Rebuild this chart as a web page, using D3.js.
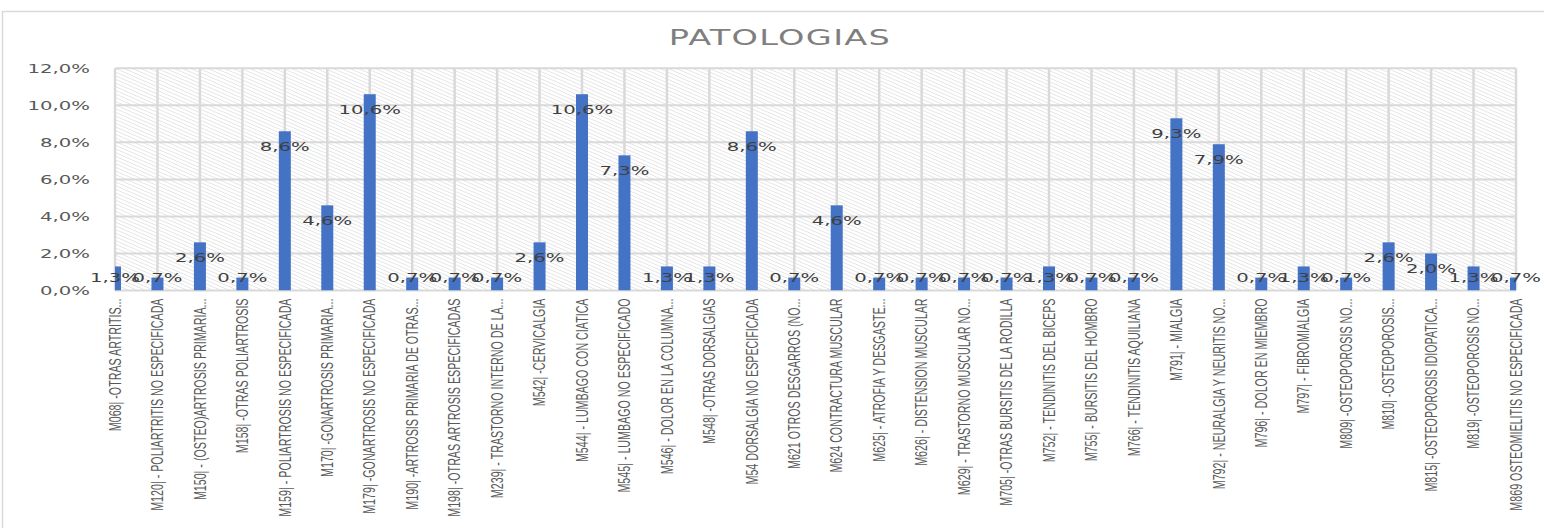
<!DOCTYPE html>
<html>
<head>
<meta charset="utf-8">
<script src="https://cdn.jsdelivr.net/npm/d3@7"></script>
<style>
  html, body { margin: 0; padding: 0; background: #fff; overflow: hidden; }
  svg { display: block; }
</style>
</head>
<body>
<div id="chart"></div>
<script>
const categories = [
  'M068| -OTRAS ARTRITIS...',
  'M120| - POLIARTRITIS NO ESPECIFICADA',
  'M150| - (OSTEO)ARTROSIS PRIMARIA...',
  'M158| -OTRAS POLIARTROSIS',
  'M159| - POLIARTROSIS NO ESPECIFICADA',
  'M170| -GONARTROSIS PRIMARIA...',
  'M179| -GONARTROSIS NO ESPECIFICADA',
  'M190| -ARTROSIS PRIMARIA DE OTRAS...',
  'M198| -OTRAS ARTROSIS ESPECIFICADAS',
  'M239| - TRASTORNO INTERNO DE LA...',
  'M542| -CERVICALGIA',
  'M544| - LUMBAGO CON CIATICA',
  'M545| - LUMBAGO NO ESPECIFICADO',
  'M546| - DOLOR EN LA COLUMNA...',
  'M548| -OTRAS DORSALGIAS',
  'M54 DORSALGIA NO ESPECIFICADA',
  'M621  OTROS DESGARROS (NO...',
  'M624 CONTRACTURA MUSCULAR',
  'M625| - ATROFIA Y DESGASTE...',
  'M626| - DISTENSION MUSCULAR',
  'M629| - TRASTORNO MUSCULAR NO...',
  'M705| -OTRAS BURSITIS DE LA RODILLA',
  'M752| - TENDINITIS DEL BICEPS',
  'M755| - BURSITIS DEL HOMBRO',
  'M766| - TENDINITIS AQUILIANA',
  'M791| - MIALGIA',
  'M792| - NEURALGIA Y NEURITIS NO...',
  'M796| - DOLOR EN MIEMBRO',
  'M797| - FIBROMIALGIA',
  'M809| -OSTEOPOROSIS NO...',
  'M810| -OSTEOPOROSIS...',
  'M815| -OSTEOPOROSIS IDIOPATICA...',
  'M819| -OSTEOPOROSIS NO...',
  'M869 OSTEOMIELITIS NO ESPECIFICADA'
];

const values = [
  1.3, 0.7, 2.6, 0.7, 8.6, 4.6, 10.6, 0.7, 0.7, 0.7,
  2.6, 10.6, 7.3, 1.3, 1.3, 8.6, 0.7, 4.6, 0.7, 0.7,
  0.7, 0.7, 1.3, 0.7, 0.7, 9.3, 7.9, 0.7, 1.3, 0.7,
  2.6, 2.0, 1.3, 0.7
];

const yTicks = [0, 2, 4, 6, 8, 10, 12];
const title = 'PATOLOGIAS';

// the source picture is stretched sideways, so draw in a narrower box and stretch it
const W = 1544, H = 528;
const sx = 1.6;
const VW = W / sx;
const X = px => px / sx; // screen x -> viewBox x

const fmt = v => v.toFixed(1).replace('.', ',') + '%';

const svg = d3.select('#chart').append('svg')
  .attr('width', W)
  .attr('height', H)
  .attr('viewBox', `0 0 ${VW} ${H}`)
  .attr('preserveAspectRatio', 'none');

const defs = svg.append('defs');

// diagonal hatch for plot area
const pat = defs.append('pattern')
  .attr('id', 'hatch')
  .attr('patternUnits', 'userSpaceOnUse')
  .attr('width', 3)
  .attr('height', 4)
  .attr('patternTransform', 'rotate(-55)');
pat.append('rect').attr('width', 3).attr('height', 4).attr('fill', '#fff');
pat.append('line')
  .attr('x1', 0).attr('y1', 0).attr('x2', 0).attr('y2', 4)
  .attr('stroke', '#dcdcdc').attr('stroke-width', 1.2);

const plotL = X(115), plotR = X(1516);
const plotT = 68.3, plotB = 290.5;

defs.append('clipPath').attr('id', 'plotclip')
  .append('rect')
  .attr('x', plotL).attr('y', plotT - 5)
  .attr('width', plotR - plotL).attr('height', plotB - plotT + 5);

// chart border
svg.append('rect')
  .attr('x', X(2.5)).attr('y', 11.5)
  .attr('width', VW + 50).attr('height', H + 50)
  .attr('fill', 'none')
  .attr('stroke', '#d9d9d9')
  .attr('stroke-width', 1.5)
  .attr('vector-effect', 'non-scaling-stroke');

// title
svg.append('text')
  .attr('x', X(780)).attr('y', 45)
  .attr('text-anchor', 'middle')
  .attr('font-family', '"DejaVu Sans", Verdana, sans-serif')
  .attr('font-size', 21)
  .attr('letter-spacing', 0.8)
  .attr('fill', '#7f7f7f')
  .text(title);

const x = d3.scalePoint()
  .domain(categories)
  .range([plotL, plotR]);

const y = d3.scaleLinear()
  .domain([0, 12])
  .range([plotB, plotT]);

// plot background
svg.append('rect')
  .attr('x', plotL).attr('y', plotT)
  .attr('width', plotR - plotL).attr('height', plotB - plotT)
  .attr('fill', 'url(#hatch)');

// horizontal gridlines
svg.append('g').selectAll('line')
  .data(yTicks)
  .join('line')
  .attr('x1', plotL).attr('x2', plotR)
  .attr('y1', d => y(d)).attr('y2', d => y(d))
  .attr('stroke', '#d9d9d9')
  .attr('stroke-width', 2)
  .attr('vector-effect', 'non-scaling-stroke');

// vertical gridlines at each category
svg.append('g').selectAll('line')
  .data(categories)
  .join('line')
  .attr('x1', d => x(d)).attr('x2', d => x(d))
  .attr('y1', plotT).attr('y2', plotB)
  .attr('stroke', '#d9d9d9')
  .attr('stroke-width', 2.5)
  .attr('vector-effect', 'non-scaling-stroke');

// y axis labels
svg.append('g').selectAll('text')
  .data(yTicks)
  .join('text')
  .attr('x', X(90))
  .attr('y', d => y(d))
  .attr('dy', '0.36em')
  .attr('text-anchor', 'end')
  .attr('font-family', '"DejaVu Sans", Verdana, sans-serif')
  .attr('font-size', 12.3)
  .attr('fill', '#595959')
  .text(d => d.toFixed(1).replace('.', ',') + '%');

// bars
const barW = X(12);
svg.append('g')
  .attr('clip-path', 'url(#plotclip)')
  .selectAll('rect')
  .data(values)
  .join('rect')
  .attr('x', (d, i) => x(categories[i]) - barW / 2)
  .attr('y', d => y(d))
  .attr('width', barW)
  .attr('height', d => plotB - y(d))
  .attr('fill', '#4472c4');

// data labels
svg.append('g').selectAll('text')
  .data(values)
  .join('text')
  .attr('x', (d, i) => x(categories[i]))
  .attr('y', d => Math.min(y(d) + 15, plotB - 12.5))
  .attr('dy', '0.36em')
  .attr('text-anchor', 'middle')
  .attr('font-family', '"DejaVu Sans", Verdana, sans-serif')
  .attr('font-size', 12.3)
  .attr('fill', '#404040')
  .text(fmt);

// category labels
svg.append('g').selectAll('text')
  .data(categories)
  .join('text')
  .attr('transform', d => `translate(${x(d) + 3.6},${plotB + 8}) rotate(-90)`)
  .attr('text-anchor', 'end')
  .attr('font-family', '"Liberation Sans Narrow", "Arial Narrow", sans-serif')
  .attr('font-size', 10.7)
  .attr('fill', '#595959')
  .text(d => d);
</script>
</body>
</html>
